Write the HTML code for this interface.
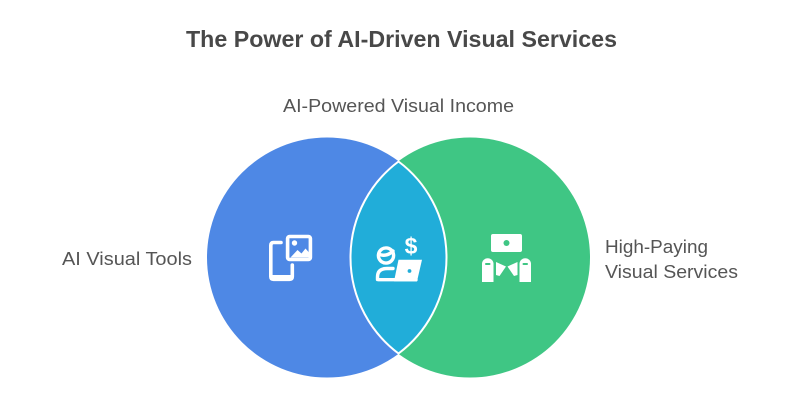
<!DOCTYPE html>
<html>
<head>
<meta charset="utf-8">
<style>
  html,body{margin:0;padding:0;background:#ffffff;}
  body{width:800px;height:402px;overflow:hidden;}
  svg{display:block;}
  text{font-family:"Liberation Sans", Arial, sans-serif;}
</style>
</head>
<body>
<svg width="800" height="402" viewBox="0 0 800 402" xmlns="http://www.w3.org/2000/svg">
  <rect width="800" height="402" fill="#ffffff"/>

  <!-- Title -->
  <text x="401.5" y="47" text-anchor="middle" font-size="23.5" font-weight="bold" fill="#484848" textLength="431" lengthAdjust="spacingAndGlyphs">The Power of AI-Driven Visual Services</text>

  <!-- Top label -->
  <text x="398.5" y="112" text-anchor="middle" font-size="18.5" fill="#555555" textLength="231" lengthAdjust="spacingAndGlyphs">AI-Powered Visual Income</text>

  <!-- Left label -->
  <text x="62" y="265" font-size="18.5" fill="#555555" textLength="130" lengthAdjust="spacingAndGlyphs">AI Visual Tools</text>

  <!-- Right label -->
  <text x="605" y="253" font-size="18.5" fill="#555555" textLength="103" lengthAdjust="spacingAndGlyphs">High-Paying</text>
  <text x="605" y="278" font-size="18.5" fill="#555555" textLength="133" lengthAdjust="spacingAndGlyphs">Visual Services</text>

  <!-- Circles -->
  <circle cx="327" cy="257.5" r="120" fill="#4E88E5"/>
  <circle cx="470" cy="257.5" r="120" fill="#3FC684"/>
  <!-- Lens -->
  <path d="M398.5 161.5 A120 120 0 0 1 398.5 353.5 A120 120 0 0 1 398.5 161.5 Z" fill="#21ADD9" stroke="#ffffff" stroke-width="2"/>

  <!-- Icon 1: phone + image -->
  <g fill="none" stroke="#ffffff" stroke-width="3.6" stroke-linecap="round" stroke-linejoin="round">
    <path d="M281 242.5 H273.5 Q270.8 242.5 270.8 245.5 V276.5 Q270.8 279.3 273.5 279.3 H289.5 Q292.3 279.3 292.3 276.5 V265"/>
    <rect x="287.6" y="236.5" width="22.8" height="23" rx="2"/>
  </g>
  <rect x="271" y="275" width="21.3" height="5" fill="#ffffff"/>
  <circle cx="294.5" cy="243" r="2.7" fill="#ffffff"/>
  <polygon points="290.5,257.5 297.5,250 301.5,253.5 305.5,248.5 309,252.5 309,257.5" fill="#ffffff"/>

  <!-- Icon 2: person + laptop + dollar -->
  <g fill="none" stroke="#ffffff" stroke-width="3.4" stroke-linecap="round" stroke-linejoin="round">
    <circle cx="386" cy="255.5" r="7.6"/>
    <path d="M379.5 254.5 Q387 257 393 251"/>
    <path d="M377.5 279.5 V277 Q377.5 268.5 387 268.5 H393"/>
    <path d="M379 279.7 H416"/>
  </g>
  <polygon points="398.5,259.8 422,259.8 417,281.4 394,281.4" fill="#ffffff"/>
  <circle cx="409.5" cy="271" r="1.9" fill="#21ADD9"/>
  <text x="411" y="254" text-anchor="middle" font-size="23" font-weight="bold" fill="#ffffff">$</text>

  <!-- Icon 3: board + people + bunting -->
  <rect x="491" y="234" width="31" height="18" rx="2" fill="#ffffff"/>
  <circle cx="506.5" cy="243" r="3" fill="#3FC684"/>
  <path d="M482 282 V264 A5.75 5.75 0 0 1 493.5 264 V282 Z" fill="#ffffff"/>
  <path d="M519.5 282 V264 A5.75 5.75 0 0 1 531 264 V282 Z" fill="#ffffff"/>
  <rect x="485" y="263" width="5.5" height="2" rx="1" fill="#3FC684"/>
  <rect x="522.5" y="263" width="5.5" height="2" rx="1" fill="#3FC684"/>
  <polygon points="496,262 506,266.5 499.5,276 496,275" fill="#ffffff"/>
  <polygon points="517.5,262 507.5,266.5 514,276 517.5,275" fill="#ffffff"/>
</svg>
</body>
</html>
